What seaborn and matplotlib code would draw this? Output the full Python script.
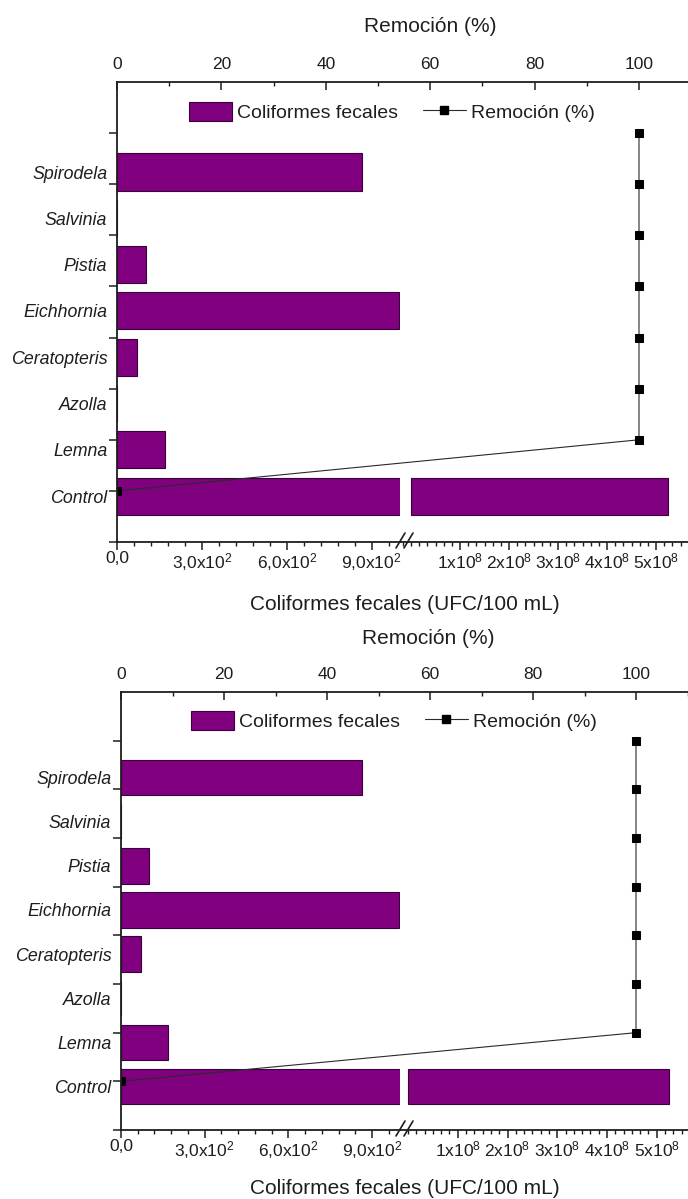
import numpy as np
import pandas as pd
import matplotlib
matplotlib.use("Agg")
import matplotlib.pyplot as plt
import matplotlib.ticker as mticker
from matplotlib.lines import Line2D
from matplotlib.patches import Patch
import seaborn as sns

# ---------------- data ----------------
species = ["Spirodela", "Salvinia", "Pistia", "Eichhornia",
           "Ceratopteris", "Azolla", "Lemna", "Control"]
coliformes = [865, 0, 102, 995, 70, 0, 169, 5.25e8]      # UFC/100 mL
remocion = [100, 100, 100, 100, 100, 100, 100, 0]         # %
break_low = 1000                                           # end of low x segment
low_ticks = [0, 300, 600, 900]
low_labels = ["0,0", r"3,0x10$^{2}$", r"6,0x10$^{2}$", r"9,0x10$^{2}$"]
high_ticks = [1e8, 2e8, 3e8, 4e8, 5e8]
high_labels = [r"1x10$^{8}$", r"2x10$^{8}$", r"3x10$^{8}$", r"4x10$^{8}$", r"5x10$^{8}$"]
pct_ticks = [0, 20, 40, 60, 80, 100]

BAR = "#800080"
EDGE = "#3a003a"
INK = "#1e1e1e"

sns.set_theme(style="white")
plt.rcParams["font.family"] = ["Liberation Sans", "DejaVu Sans"]
plt.rcParams["mathtext.fontset"] = "custom"
plt.rcParams["mathtext.rm"] = "Liberation Sans"
plt.rcParams["mathtext.it"] = "Liberation Sans:italic"
plt.rcParams["text.color"] = INK
plt.rcParams["axes.edgecolor"] = INK
plt.rcParams["xtick.color"] = INK
plt.rcParams["ytick.color"] = INK

W, H = 688, 1199
fig = plt.figure(figsize=(W / 100, H / 100), dpi=100)

df = pd.DataFrame({"Especie": species, "UFC": coliformes, "Remocion": remocion})
df["pos"] = len(species) - np.arange(len(species))   # Control -> 1 ... Spirodela -> 8


def fx(x):
    return x / W


def fy(y):
    return 1 - y / H


def panel(L, R, T, B, brk, hi_zero, hi_px, pct100, title_xy, xlabel_xy, leg_xy):
    h = (B - T) / H
    axL = fig.add_axes([fx(L), fy(B), fx(brk) - fx(L), h])
    axR = fig.add_axes([fx(brk), fy(B), fx(R) - fx(brk), h])
    axP = fig.add_axes([fx(L), fy(B), fx(R) - fx(L), h])
    ylim = (7.99, -1.944)

    # ---- low segment bars
    sns.barplot(data=df, x="UFC", y="Especie", order=species, orient="h",
                color=BAR, saturation=1, width=0.8, errorbar=None,
                edgecolor=EDGE, linewidth=0.8, ax=axL)
    axL.set_xlim(0, break_low)
    axL.set_ylim(*ylim)
    axL.set_xlabel("")
    axL.set_ylabel("")
    axL.set_xticks(low_ticks)
    axL.set_xticklabels(low_labels)
    axL.xaxis.set_minor_locator(mticker.MultipleLocator(60))
    axL.tick_params(axis="x", which="major", direction="out", length=6, width=1.1,
                    labelsize=12.5, pad=0.5, bottom=True)
    axL.tick_params(axis="x", which="minor", direction="out", length=3.2, width=1.0,
                    bottom=True)
    axL.tick_params(axis="y", length=0, labelsize=12.8, pad=7)
    for lab in axL.get_yticklabels():
        lab.set_fontstyle("italic")
    for s in ["top", "right", "left"]:
        axL.spines[s].set_visible(False)
    axL.spines["bottom"].set_linewidth(1.3)
    axL.patch.set_alpha(0)

    # ---- high segment bars
    sub = df[df["UFC"] > break_low]
    sns.barplot(data=sub, x="UFC", y="Especie", order=species, orient="h",
                color=BAR, saturation=1, width=0.8, errorbar=None,
                edgecolor=EDGE, linewidth=0.8, ax=axR)
    axR.set_xlim((brk - hi_zero) / hi_px * 1e8, (R - hi_zero) / hi_px * 1e8)
    axR.set_ylim(*ylim)
    axR.set_xlabel("")
    axR.set_ylabel("")
    axR.set_yticks([])
    axR.set_xticks(high_ticks)
    axR.set_xticklabels(high_labels)
    axR.xaxis.set_minor_locator(mticker.MultipleLocator(1e8 / 6))
    axR.tick_params(axis="x", which="major", direction="out", length=6, width=1.1,
                    labelsize=12.5, pad=0.5, bottom=True)
    axR.tick_params(axis="x", which="minor", direction="out", length=3.2, width=1.0,
                    bottom=True)
    for s in ["top", "right", "left"]:
        axR.spines[s].set_visible(False)
    axR.spines["bottom"].set_linewidth(1.3)
    axR.patch.set_alpha(0)

    # ---- removal line (top axis)
    axP.patch.set_alpha(0)
    sns.lineplot(data=df, x="Remocion", y="pos", sort=False, estimator=None,
                 color="#2a2a2a", linewidth=0.8, marker="s", markersize=6.2,
                 markerfacecolor="black", markeredgecolor="black", ax=axP)
    scale = (pct100 - L) / 100
    axP.set_xlim(0, (R - L) / scale)
    axP.set_ylim(0, 9)
    axP.set_xlabel("")
    axP.set_ylabel("")
    axP.xaxis.tick_top()
    axP.set_xticks(pct_ticks)
    axP.xaxis.set_minor_locator(mticker.MultipleLocator(10))
    axP.set_yticks(range(0, 9))
    axP.set_yticklabels([])
    axP.tick_params(axis="x", which="major", direction="in", length=5.8, width=1.1,
                    labelsize=12.5, pad=7.5, top=True, bottom=False)
    axP.tick_params(axis="x", which="minor", direction="in", length=2.8, width=1.0,
                    top=True, bottom=False)
    axP.tick_params(axis="y", which="major", direction="out", length=5.8, width=1.1,
                    left=True)
    for s in ["bottom", "right"]:
        axP.spines[s].set_visible(False)
    axP.spines["top"].set_linewidth(1.3)
    axP.spines["left"].set_linewidth(1.3)

    # legend
    handles = [Patch(facecolor=BAR, edgecolor=EDGE, linewidth=0.8),
               Line2D([], [], color="#2a2a2a", linewidth=0.8, marker="s",
                      markersize=6.2, markerfacecolor="black", markeredgecolor="black")]
    axP.legend(handles, ["Coliformes fecales", "Remoción (%)"], ncol=2,
               loc="upper left", bbox_to_anchor=(fx(leg_xy[0]), fy(leg_xy[1])),
               bbox_transform=fig.transFigure, frameon=False, fontsize=14,
               handlelength=2.2, handleheight=1.1, handletextpad=0.25,
               columnspacing=1.3, borderpad=0, borderaxespad=0)

    # titles
    fig.text(fx(title_xy[0]), fy(title_xy[1]), "Remoción (%)", fontsize=15,
             ha="center", va="center")
    fig.text(fx(xlabel_xy[0]), fy(xlabel_xy[1]), "Coliformes fecales (UFC/100 mL)",
             fontsize=15, ha="center", va="center")

    # axis break marks
    for dx in (0, 8):
        fig.add_artist(Line2D([fx(396 + dx), fx(405 + dx)], [fy(B + 6), fy(B - 9)],
                              transform=fig.transFigure, color=INK, lw=1.2))


panel(117, 688, 82, 542, 400, 411, 49.0, 639, (430, 27), (405, 605), (189, 102))
panel(121, 688, 692, 1130, 400, 408, 49.75, 636, (428, 638), (405, 1189), (191, 711))

fig.savefig("out.png", dpi=100)
